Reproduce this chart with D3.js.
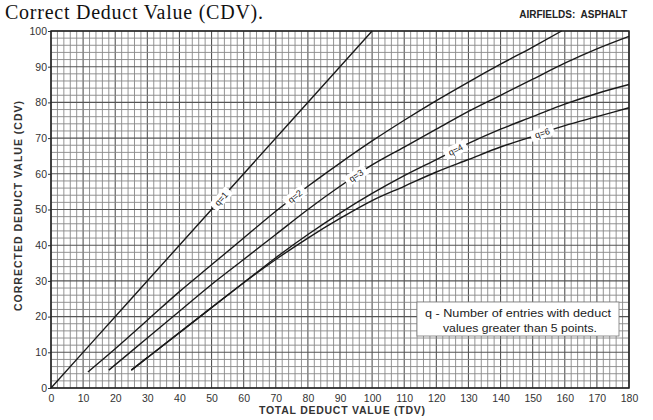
<!DOCTYPE html>
<html><head><meta charset="utf-8">
<script src="https://cdn.jsdelivr.net/npm/d3@7"></script>
<style>body{margin:0;background:#fff}svg{display:block}</style>
</head><body><svg id="c" width="653" height="420"></svg>
<script>
// ---- data ----
const xTicks = [0,10,20,30,40,50,60,70,80,90,100,110,120,130,140,150,160,170,180];
const yTicks = [0,10,20,30,40,50,60,70,80,90,100];
const seriesNames = ["q=1","q=2","q=3","q=4","q=6"];
const q1 = [[0,0],[25,25],[50,50],[75,75],[100,100]];
const q2 = [[11.5,4.5],[20,11],[30,19],[40,27],[50,34.5],[60,42],[70,49.5],[80,56.5],[90,63],[100,69.2],[110,75],[120,80.5],[130,85.7],[140,90.7],[150,95.5],[159,100]];
const q3 = [[18,5],[30,14],[40,21.5],[50,29],[60,36],[70,43],[80,50],[90,56.5],[100,62.5],[110,67.5],[120,72.5],[130,77.5],[140,82],[150,86.5],[160,91],[170,95],[180,98.5]];
const q4 = [[25,5],[30,8.5],[40,15.5],[50,22.5],[60,29.5],[70,36.5],[80,43],[90,49],[100,54.5],[110,59.5],[120,64],[130,68.5],[140,72.5],[150,76],[160,79.5],[170,82.5],[180,85]];
const q6 = [[25,5],[30,8.5],[40,15.5],[50,22.5],[60,29.5],[70,36],[80,42],[90,47.5],[100,52.5],[110,56.5],[120,60.5],[130,64],[140,67.5],[150,70.5],[160,73.5],[170,76],[180,78.5]];
const seriesData = [q1,q2,q3,q4,q6];
const labelAtX = [53,76,95,126,153];
const titleText = "AIRFIELDS:  ASPHALT";
const topText = "Correct Deduct Value (CDV).";
const xLabel = "TOTAL DEDUCT VALUE (TDV)";
const yLabel = "CORRECTED DEDUCT VALUE (CDV)";
const noteLines = ["q - Number of entries with deduct","values greater than 5 points."];

// ---- layout ----
const svg = d3.select("#c");
const L = 51, R = 629, T = 31, B = 388;
const x = d3.scaleLinear().domain([0,180]).range([L,R]);
const y = d3.scaleLinear().domain([0,100]).range([B,T]);
const sans = "Liberation Sans, Arial, sans-serif";

// top text
svg.append("text").attr("x",5).attr("y",19)
  .attr("font-family","Liberation Serif, Times New Roman, serif").attr("font-size",20)
  .attr("fill","#111").attr("textLength",258).text(topText);

// title
svg.append("text").attr("x",627).attr("y",18).attr("text-anchor","end")
  .attr("font-family",sans).attr("font-weight","bold")
  .attr("font-size",10).attr("fill","#222").attr("xml:space","preserve").text(titleText);

// grid
const g = svg.append("g");
g.selectAll("line.vx").data(d3.range(0,181,2)).join("line")
  .attr("x1",d=>x(d)).attr("x2",d=>x(d)).attr("y1",T).attr("y2",B)
  .attr("stroke",d=>d%10===0?"#555":"#888").attr("stroke-width",d=>d%10===0?1.1:0.9);
g.selectAll("line.hy").data(d3.range(0,101,2)).join("line")
  .attr("y1",d=>y(d)).attr("y2",d=>y(d)).attr("x1",L).attr("x2",R)
  .attr("stroke",d=>d%10===0?"#555":"#888").attr("stroke-width",d=>d%10===0?1.1:0.9);

// axes
const xAxis = d3.axisBottom(x).tickValues(xTicks).tickSize(0).tickPadding(7);
const yAxis = d3.axisLeft(y).tickValues(yTicks).tickSize(3).tickPadding(1);
const gx = svg.append("g").attr("transform",`translate(0,${B})`).call(xAxis);
const gy = svg.append("g").attr("transform",`translate(${L},0)`).call(yAxis);
[gx,gy].forEach(a=>{
  a.select(".domain").remove();
  a.selectAll("text").attr("font-family",sans).attr("font-size",10.5).attr("fill","#333");
  a.selectAll("line").attr("stroke","#333");
});

// frame
svg.append("rect").attr("x",L).attr("y",T).attr("width",R-L).attr("height",B-T)
  .attr("fill","none").attr("stroke","#222").attr("stroke-width",1.5);

// curves
const line = d3.line().x(d=>x(d[0])).y(d=>y(d[1])).curve(d3.curveMonotoneX);
svg.append("g").selectAll("path").data(seriesData).join("path")
  .attr("d",line).attr("fill","none").attr("stroke","#1a1a1a").attr("stroke-width",1.4);

// curve labels
function yAt(data,xv){
  for(let i=0;i<data.length-1;i++){
    if(xv>=data[i][0] && xv<=data[i+1][0]){
      const t=(xv-data[i][0])/(data[i+1][0]-data[i][0]);
      return data[i][1]+t*(data[i+1][1]-data[i][1]);
    }
  }
  return data[data.length-1][1];
}
seriesNames.forEach((nm,i)=>{
  const d = seriesData[i], xv = labelAtX[i];
  const px = x(xv), py = y(yAt(d,xv));
  const px2 = x(xv+2), py2 = y(yAt(d,xv+2));
  const ang = Math.atan2(py2-py, px2-px)*180/Math.PI;
  const lg = svg.append("g").attr("transform",`translate(${px},${py}) rotate(${ang})`);
  lg.append("rect").attr("x",-12).attr("y",-5.5).attr("width",24).attr("height",11).attr("fill","#fff");
  lg.append("text").attr("text-anchor","middle").attr("dy","0.35em")
    .attr("font-family",sans).attr("font-size",9).attr("fill","#222").text(nm);
});

// note box
const nb = svg.append("g");
nb.append("rect").attr("x",417).attr("y",302).attr("width",202).attr("height",34)
  .attr("fill","#fff").attr("stroke","#777").attr("stroke-width",0.8);
const noteX = [425,443], noteW = [186,154];
nb.selectAll("text").data(noteLines).join("text")
  .attr("x",(d,i)=>noteX[i]).attr("y",(d,i)=>317+i*15)
  .attr("font-family",sans).attr("font-size",11).attr("fill","#222")
  .attr("textLength",(d,i)=>noteW[i]).attr("lengthAdjust","spacingAndGlyphs")
  .text(d=>d);

// axis titles
svg.append("text").attr("x",342).attr("y",414).attr("text-anchor","middle")
  .attr("font-family",sans).attr("font-weight","bold")
  .attr("font-size",10.5).attr("fill","#333").attr("textLength",166).text(xLabel);
svg.append("text").attr("transform","translate(22,206) rotate(-90)").attr("text-anchor","middle")
  .attr("font-family",sans).attr("font-weight","bold")
  .attr("font-size",10.5).attr("fill","#333").attr("textLength",210).text(yLabel);
</script></body></html>
